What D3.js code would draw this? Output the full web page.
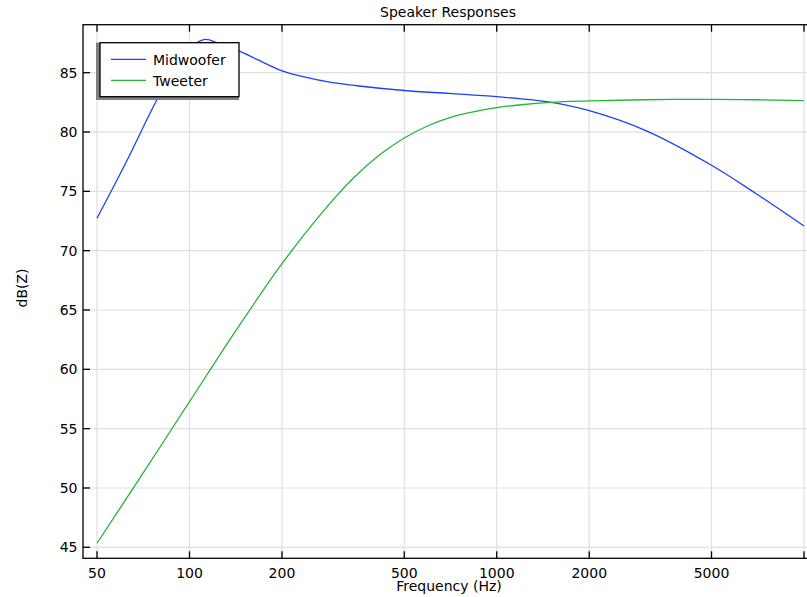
<!DOCTYPE html>
<html>
<head>
<meta charset="utf-8">
<script src="https://cdn.jsdelivr.net/npm/d3@7"></script>
<style>
  body { margin: 0; background: #fff; }
  text { font-family: "DejaVu Sans", sans-serif; }
</style>
</head>
<body>
<div id="canvas"></div>
<script>
var width = 807;
var height = 597;

// values (Hz, dB)
var midFreq = [50, 62.6, 78.3, 90, 100, 112, 125, 146, 200, 240, 286, 350, 500, 700, 1000, 1488, 2000, 3070, 5000, 6990, 10000];
var midDb   = [72.73, 77.6, 82.7, 85.3, 87.0, 87.8, 87.45, 86.8, 85.15, 84.6, 84.2, 83.9, 83.5, 83.25, 82.98, 82.52, 81.8, 80.1, 77.2, 74.8, 72.08];

var twFreq = [50, 70, 100, 141, 200, 266, 341, 417, 500, 600, 700, 838, 1000, 1200, 1488, 2000, 3000, 5000, 7000, 10000];
var twDb   = [45.34, 51.1, 57.27, 63.2, 68.9, 73.0, 76.1, 78.1, 79.5, 80.55, 81.2, 81.7, 82.05, 82.3, 82.5, 82.62, 82.72, 82.75, 82.72, 82.65];

var seriesNames = ["Midwoofer", "Tweeter"];
var seriesColors = ["#1f3fff", "#22b53a"];

var xTicks = [50, 100, 200, 500, 1000, 2000, 5000, 10000];
var xTickLabels = ["50", "100", "200", "500", "1000", "2000", "5000", ""];
var yTicks = [45, 50, 55, 60, 65, 70, 75, 80, 85];

var svg = d3.select("#canvas").append("svg")
    .attr("width", width)
    .attr("height", height);

// plot box
var pLeft = 83, pRight = 812, pTop = 24.7, pBottom = 558.3;

var x = d3.scaleLog().domain([50, 10000]).range([97, 804]);
var y = d3.scaleLinear().domain([45, 85]).range([547.3, 72.7]);

// grid
svg.append("g").selectAll("line").data(xTicks).enter().append("line")
    .attr("x1", d => x(d)).attr("x2", d => x(d))
    .attr("y1", pTop).attr("y2", pBottom)
    .attr("stroke", "#e0e0e0").attr("stroke-width", 1.2);
svg.append("g").selectAll("line").data(yTicks).enter().append("line")
    .attr("x1", pLeft).attr("x2", pRight)
    .attr("y1", d => y(d)).attr("y2", d => y(d))
    .attr("stroke", "#e0e0e0").attr("stroke-width", 1.2);

// curves
var line = d3.line()
    .x(d => x(d[0]))
    .y(d => y(d[1]))
    .curve(d3.curveCatmullRom.alpha(0.5));

var data = [d3.zip(midFreq, midDb), d3.zip(twFreq, twDb)];

svg.append("defs").append("clipPath").attr("id", "clip")
  .append("rect").attr("x", pLeft).attr("y", pTop)
  .attr("width", pRight - pLeft).attr("height", pBottom - pTop);

svg.append("g").attr("clip-path", "url(#clip)")
  .selectAll("path").data(data).enter().append("path")
    .attr("d", line)
    .attr("fill", "none")
    .attr("stroke", (d, i) => seriesColors[i])
    .attr("stroke-width", 1.3);

// frame
svg.append("rect")
    .attr("x", pLeft).attr("y", pTop)
    .attr("width", pRight - pLeft).attr("height", pBottom - pTop)
    .attr("fill", "none").attr("stroke", "#000").attr("stroke-width", 1.3);

// ticks (inside)
var tl = 7;
svg.append("g").selectAll("line").data(xTicks).enter().append("line")
    .attr("x1", d => x(d)).attr("x2", d => x(d))
    .attr("y1", pBottom).attr("y2", pBottom - tl)
    .attr("stroke", "#000").attr("stroke-width", 1.3);
svg.append("g").selectAll("line").data(xTicks).enter().append("line")
    .attr("x1", d => x(d)).attr("x2", d => x(d))
    .attr("y1", pTop).attr("y2", pTop + tl)
    .attr("stroke", "#000").attr("stroke-width", 1.3);
svg.append("g").selectAll("line").data(yTicks).enter().append("line")
    .attr("x1", pLeft).attr("x2", pLeft + tl)
    .attr("y1", d => y(d)).attr("y2", d => y(d))
    .attr("stroke", "#000").attr("stroke-width", 1.3);

// tick labels
svg.append("g").selectAll("text").data(xTicks).enter().append("text")
    .attr("x", d => x(d)).attr("y", 577.5)
    .attr("text-anchor", "middle")
    .attr("font-size", 14)
    .text((d, i) => xTickLabels[i]);
svg.append("g").selectAll("text").data(yTicks).enter().append("text")
    .attr("x", 77.5).attr("y", d => y(d))
    .attr("dy", "0.36em")
    .attr("text-anchor", "end")
    .attr("font-size", 14)
    .text(d => d);

// titles
svg.append("text").attr("x", 448).attr("y", 16.5)
    .attr("text-anchor", "middle").attr("font-size", 14)
    .text("Speaker Responses");
svg.append("text").attr("x", 449).attr("y", 591)
    .attr("text-anchor", "middle").attr("font-size", 14)
    .text("Frequency (Hz)");
svg.append("text")
    .attr("transform", "translate(27,288) rotate(-90)")
    .attr("text-anchor", "middle").attr("font-size", 14)
    .text("dB(Z)");

// legend
var lg = svg.append("g");
lg.append("rect").attr("x", 96).attr("y", 42.7).attr("width", 143).attr("height", 57.3)
    .attr("fill", "#808080");
lg.append("rect").attr("x", 100).attr("y", 42.7).attr("width", 139).attr("height", 54)
    .attr("fill", "#fff").attr("stroke", "#000").attr("stroke-width", 1.3);
seriesNames.forEach(function(name, i) {
  var ly = 59.3 + i * 21;
  lg.append("line").attr("x1", 111).attr("x2", 146).attr("y1", ly).attr("y2", ly)
    .attr("stroke", seriesColors[i]).attr("stroke-width", 1.3);
  lg.append("text").attr("x", 153).attr("y", ly + 5.2)
    .attr("font-size", 14).text(name);
});
</script>
</body>
</html>
